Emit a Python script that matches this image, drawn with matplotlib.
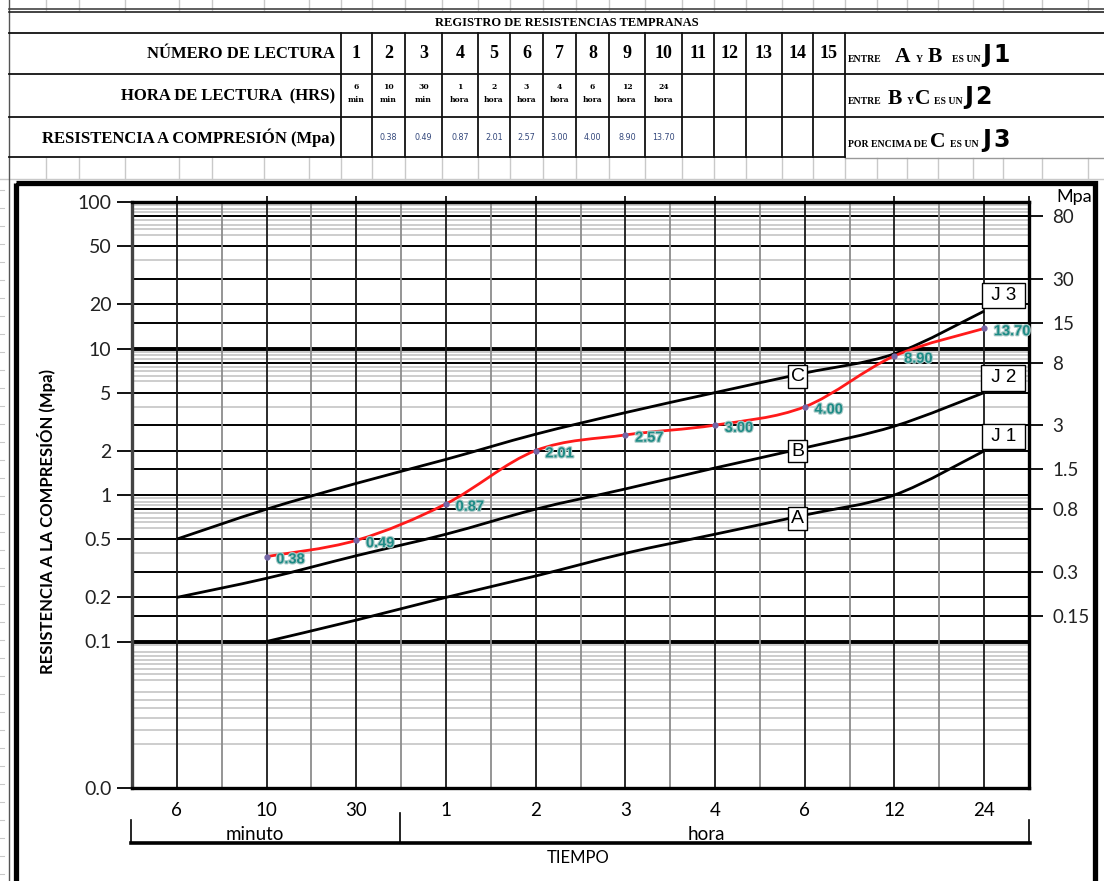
import numpy as np
import matplotlib
matplotlib.use("Agg")
import matplotlib.pyplot as plt
from matplotlib.path import Path
from matplotlib.patches import PathPatch, Rectangle
from matplotlib.ticker import NullLocator, FixedLocator
import matplotlib.patheffects as pe

# ---- data ----
lectura = list(range(1, 16))
hora_num = ['6', '10', '30', '1', '2', '3', '4', '6', '12', '24']
hora_unit = ['min', 'min', 'min', 'hora', 'hora', 'hora', 'hora', 'hora', 'hora', 'hora']
resistencia = [np.nan, 0.38, 0.49, 0.87, 2.01, 2.57, 3.00, 4.00, 8.90, 13.70]

# limit curves between classes J1 / J2 / J3
curva_a = [np.nan, 0.10, 0.14, 0.20, 0.28, 0.40, 0.54, 0.73, 1.00, 2.00]
curva_b = [0.20, 0.27, 0.385, 0.54, 0.80, 1.10, 1.53, 2.10, 2.95, 5.00]
curva_c = [0.50, 0.80, 1.20, 1.75, 2.60, 3.65, 5.00, 6.80, 9.20, 18.0]

ticks_izq = [100, 50, 20, 10, 5, 2, 1, 0.5, 0.2, 0.1, 0.01]
labels_izq = ['100', '50', '20', '10', '5', '2', '1', '0.5', '0.2', '0.1', '0.0']
ticks_der = [80, 30, 15, 8, 3, 1.5, 0.8, 0.3, 0.15]
labels_der = ['80', '30', '15', '8', '3', '1.5', '0.8', '0.3', '0.15']

W, H = 1104, 881
SANS = 'Lato'
SERIF = 'Liberation Serif'


def smooth_path(xs, ys):
    # Catmull-Rom through the points in (x, log10 y) space, as cubic Beziers
    xs = np.asarray(xs, float)
    ys = np.asarray(ys, float)
    ok = ~np.isnan(ys)
    pts = np.column_stack([xs[ok], np.log10(ys[ok])])
    verts = [pts[0]]
    codes = [Path.MOVETO]
    n = len(pts)
    for i in range(n - 1):
        p0 = pts[i - 1] if i > 0 else pts[i]
        p1, p2 = pts[i], pts[i + 1]
        p3 = pts[i + 2] if i + 2 < n else pts[i + 1]
        verts += [p1 + (p2 - p0) / 6.0, p2 - (p3 - p1) / 6.0, p2]
        codes += [Path.CURVE4] * 3
    verts = np.array(verts)
    verts[:, 1] = 10 ** verts[:, 1]
    return Path(verts, codes)


fig = plt.figure(figsize=(W / 100, H / 100), dpi=100)

# ---- sheet layer in pixel coordinates ----
bg = fig.add_axes([0, 0, 1, 1])
bg.set_xlim(0, W)
bg.set_ylim(H, 0)
bg.axis('off')

grey = '#c9c9c9'
sheet_cols = [46, 79, 125, 179, 212, 264, 309, 341, 372, 405, 442, 478, 510, 543,
              576, 609, 645, 682, 714, 746, 782, 813, 845, 877, 907, 938, 973,
              1003, 1042, 1088]
for x in sheet_cols:
    bg.plot([x, x], [0, 10], color=grey, lw=1)
    bg.plot([x, x], [158, 179], color=grey, lw=1)
bg.plot([0, W], [179, 179], color=grey, lw=1)
bg.plot([9, 9], [0, H], color='#555555', lw=1)
for y in range(190, H, 18):
    bg.plot([0, 4], [y, y], color=grey, lw=0.8)

# table frame
bg.plot([9, W], [9, 9], color='#444444', lw=1.2)
bg.plot([9, W], [12, 12], color='#222222', lw=1.2)
for y in [33, 74, 117]:
    bg.plot([9, W], [y, y], color='#111111', lw=1.3)
bg.plot([9, 845], [157, 157], color='#111111', lw=1.3)
bg.plot([845, W], [158, 158], color='#999999', lw=1)
col_edges = [341, 372, 405, 442, 478, 510, 543, 576, 609, 645, 682, 714, 746, 782, 813, 845]
for x in col_edges:
    bg.plot([x, x], [33, 157], color='#111111', lw=1.3)

bg.text(567, 23, 'REGISTRO DE RESISTENCIAS TEMPRANAS', family=SERIF, weight='bold',
        fontsize=9, ha='center', va='center')
row_y = [54, 96, 138]
bg.text(335, row_y[0], 'NÚMERO DE LECTURA', family=SERIF, weight='bold', fontsize=12,
        ha='right', va='center')
bg.text(335, row_y[1], 'HORA DE LECTURA  (HRS)', family=SERIF, weight='bold', fontsize=12,
        ha='right', va='center')
bg.text(335, row_y[2], 'RESISTENCIA A COMPRESIÓN (Mpa)', family=SERIF, weight='bold',
        fontsize=12, ha='right', va='center')

centers = [(col_edges[i] + col_edges[i + 1]) / 2 for i in range(15)]
for i, n in enumerate(lectura):
    bg.text(centers[i], row_y[0], str(n), family=SERIF, weight='bold', fontsize=13,
            ha='center', va='center')
for i, (num, unit) in enumerate(zip(hora_num, hora_unit)):
    bg.text(centers[i], 87, num, family='DejaVu Serif', weight='bold', fontsize=5.5,
            ha='center', va='center')
    bg.text(centers[i], 100, unit, family='DejaVu Serif', weight='bold', fontsize=5.5,
            ha='center', va='center')
for i, v in enumerate(resistencia):
    if not np.isnan(v):
        bg.text(centers[i], row_y[2], f'{v:.2f}', family='DejaVu Sans', fontsize=5.8,
                color='#34487c', ha='center', va='center')


# class legend on the right of the table
def legend_row(y, parts):
    for x, s, kind in parts:
        if kind == 'small':
            bg.text(x, y, s, family=SERIF, weight='bold', fontsize=7, va='baseline')
        elif kind == 'big':
            bg.text(x, y, s, family=SERIF, weight='bold', fontsize=15.5, va='baseline')
        else:
            bg.text(x, y, s[0], family='DejaVu Sans', weight='heavy', fontsize=17,
                    va='baseline')
            bg.text(x + 11, y, s[1], family='DejaVu Sans', weight='heavy', fontsize=17,
                    va='baseline')


legend_row(62, [(848, 'ENTRE', 'small'), (895, 'A', 'big'), (916, 'Y', 'small'),
                (928, 'B', 'big'), (952, 'ES UN', 'small'), (982, 'J1', 'j')])
legend_row(104, [(848, 'ENTRE', 'small'), (888, 'B', 'big'), (907, 'Y', 'small'),
                 (915, 'C', 'big'), (934, 'ES UN', 'small'), (964, 'J2', 'j')])
legend_row(147, [(848, 'POR ENCIMA DE', 'small'), (930, 'C', 'big'), (950, 'ES UN', 'small'),
                 (982, 'J3', 'j')])

# chart frame
bg.add_patch(Rectangle((15.5, 182.5), 1079, 720, fill=False, lw=3.8, edgecolor='black'))

# bracket under the time axis
bg.plot([131, 1030], [843, 843], color='black', lw=2.6)
bg.plot([131, 131], [820, 843], color='black', lw=1.2)
bg.plot([400, 400], [813, 843], color='black', lw=1.2)
bg.plot([1029, 1029], [820, 843], color='black', lw=1.2)
bg.text(255, 834, 'minuto', family=SANS, fontsize=13.5, ha='center', va='center')
bg.text(706, 834, 'hora', family=SANS, fontsize=13.5, ha='center', va='center')
bg.text(578, 858, 'TIEMPO', family=SANS, fontsize=12, ha='center', va='center')
bg.text(47, 522, 'RESISTENCIA A LA COMPRESIÓN (Mpa)', family=SANS, weight='bold',
        fontsize=12, rotation=90, ha='center', va='center')
bg.text(1074, 197, 'Mpa', family=SANS, fontsize=13, ha='center', va='center')

# ---- plot area ----
L, R, T, B = 132, 1029, 202, 788
ax = fig.add_axes([L / W, 1 - B / H, (R - L) / W, (B - T) / H])
ax.set_yscale('log')
ax.set_ylim(0.01, 100)
ax.set_xlim(-0.5, 9.5)

# horizontal grid: grey minor rules, black at every labelled value
for d in [10, 1, 0.1]:
    for m in [9.5, 9, 8.5, 7.5, 7, 6.5, 6, 4]:
        ax.axhline(d * m, color='#cdcdcd', lw=1.4, zorder=1)
for v in [0.095, 0.085, 0.08, 0.075, 0.07, 0.065, 0.06, 0.055, 0.045, 0.04,
          0.035, 0.03, 0.025, 0.02]:
    ax.axhline(v, color='#cdcdcd', lw=1.4, zorder=1)
for v in ticks_izq[1:-1] + ticks_der:
    lw = 2.8 if v in (10, 0.1) else 1.4
    ax.axhline(v, color='black', lw=lw, zorder=2)

# vertical grid
for i in range(10):
    ax.axvline(i, color='#1a1a1a', lw=1.3, zorder=2)
    if i < 9:
        ax.axvline(i + 0.5, color='#8c8c8c', lw=1.3, zorder=2)

for sp in ['top', 'bottom', 'right']:
    ax.spines[sp].set_linewidth(2.4)
ax.spines['left'].set_linewidth(2.4)
ax.spines['left'].set_color('#444444')

ax.yaxis.set_major_locator(FixedLocator(ticks_izq))
ax.yaxis.set_minor_locator(NullLocator())
ax.set_yticklabels(labels_izq)
ax.tick_params(axis='y', length=10.8, width=1.3, labelsize=14, pad=4)
for t in ax.get_yticklabels():
    t.set_family(SANS)
    t.set_color('#222222')

ax.set_xticks(range(10))
ax.set_xticklabels(hora_num)
ax.tick_params(axis='x', length=0, labelsize=13.5, pad=10)
for t in ax.get_xticklabels():
    t.set_family(SANS)

top = ax.secondary_xaxis('top')
top.set_xticks(list(range(10)) + [9.5])
top.set_xticklabels([''] * 11)
top.tick_params(length=4.5, width=1.2)

ax_r = ax.twinx()
ax_r.set_yscale('log')
ax_r.set_ylim(0.01, 100)
ax_r.yaxis.set_major_locator(FixedLocator(ticks_der))
ax_r.yaxis.set_minor_locator(NullLocator())
ax_r.set_yticklabels(labels_der)
ax_r.tick_params(axis='y', length=10, width=1.3, labelsize=13.5, pad=7)
for t in ax_r.get_yticklabels():
    t.set_family(SANS)
    t.set_color('#222222')
for sp in ax_r.spines.values():
    sp.set_visible(False)

x = np.arange(10)
for curva in [curva_a, curva_b, curva_c]:
    ax.add_patch(PathPatch(smooth_path(x, curva), facecolor='none', edgecolor='black',
                           lw=2.0, zorder=4))

ax.add_patch(PathPatch(smooth_path(x, resistencia), facecolor='none', edgecolor='#ff1a1a',
                       lw=2.0, zorder=5))
ax.plot(x, resistencia, linestyle='none', marker='o', ms=3.5, color='#7466a6', zorder=6)
for xi, v in zip(x, resistencia):
    if not np.isnan(v):
        ax.annotate(f'{v:.2f}', (xi, v), xytext=(7, -2), textcoords='offset points',
                    ha='left', va='center', fontsize=10.5, weight='bold',
                    family='Liberation Sans', color='#1d8b86', zorder=7,
                    path_effects=[pe.withStroke(linewidth=1.6, foreground='#a9c9c6')])

box = dict(boxstyle='square,pad=0.15', facecolor='white', edgecolor='black', lw=1.0)
for name, curva in [('C', curva_c), ('B', curva_b), ('A', curva_a)]:
    ax.text(6.92, curva[7] * 0.95, name, ha='center', va='center', fontsize=14,
            family='Liberation Sans', bbox=box, zorder=8)

jbox = dict(boxstyle='square,pad=0.22', facecolor='white', edgecolor='black', lw=1.0)
for name, yv in [('J 3', 23.0), ('J 2', 6.3), ('J 1', 2.5)]:
    ax.text(9.215, yv, ' ' + name + ' ', ha='center', va='center', fontsize=13.5,
            family='Liberation Sans', bbox=jbox, zorder=8)

fig.savefig('out.png', dpi=100)
